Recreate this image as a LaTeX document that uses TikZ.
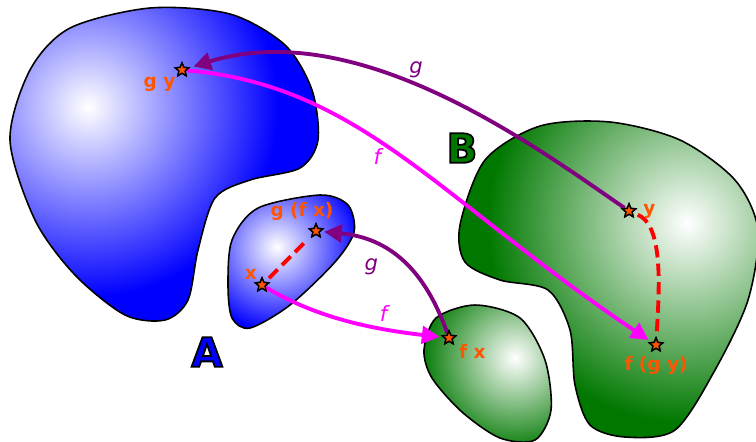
\documentclass[tikz,border=0pt]{standalone}
\usepackage{fontspec}
\setsansfont{DejaVu Sans}
\usetikzlibrary{arrows.meta,positioning,shapes.geometric}
\definecolor{ptcol}{RGB}{255,85,0}
\definecolor{gcol}{RGB}{128,0,128}
\definecolor{fcol}{RGB}{255,0,255}
\definecolor{setgreen}{RGB}{0,120,0}

\tikzset{
  pt/.style={star, star points=5, star point ratio=2.2, draw=black, line width=0.8pt,
    fill=ptcol, minimum size=8pt, inner sep=0pt},
  ptlbl/.style={text=ptcol, font=\sffamily\bfseries\fontsize{10.5}{12}\selectfont, inner sep=1pt},
  maplbl/.style={font=\sffamily\itshape\fontsize{12}{14}\selectfont, inner sep=1pt},
  map/.style={line width=2.2pt, -{Triangle[length=10pt,width=10pt]}, shorten >=2pt},
  eqpath/.style={red, line width=2.2pt, dash pattern=on 7pt off 3.5pt, shorten <=3pt, shorten >=3pt},
  blob/.style={draw=black, line width=0.9pt},
  setlbl/.style={font=\sffamily\bfseries\fontsize{23}{23}\selectfont}
}

\newcommand{\setblob}[5]{%
  \begin{scope}
    \clip plot[smooth cycle] coordinates {#5};
    \fill[#1] (0,0) rectangle (760,441);
    \shade[inner color=white, outer color=#1] (#2,#3) circle (#4);
  \end{scope}
  \draw[blob] plot[smooth cycle] coordinates {#5};}
\newcommand{\outlined}[2]{{\color{#1}\special{pdf:literal direct 0 0 0 RG 1 w 2 Tr}#2\special{pdf:literal direct 0 Tr}}}

\begin{document}
\begin{tikzpicture}[x=0.02cm, y=-0.02cm]
\useasboundingbox (0,0) rectangle (756,441);
\setblob{blue}{88}{107}{190}{(10,140) (30,70) (70,28) (150,8) (230,14) (285,45) (312,90) (318,140) (300,168) (250,180) (215,198) (198,250) (188,300) (165,320) (125,315) (75,275) (35,220)}
\setblob{blue}{277}{247}{85}{(228,285) (232,240) (258,208) (320,195) (348,205) (354,232) (335,262) (290,305) (250,328) (232,318)}
\setblob{setgreen}{515}{358}{95}{(424,350) (436,318) (475,305) (520,318) (545,360) (551,410) (535,440) (500,438) (462,412) (432,378)}
\setblob{setgreen}{687}{223}{200}{(460,225) (485,160) (540,126) (610,122) (680,140) (735,180) (758,230) (748,300) (715,370) (675,430) (625,437) (590,425) (575,385) (570,330) (548,290) (500,280) (465,262)}

\node[setlbl] (A) at (207,352) {\outlined{blue}{A}};
\node[setlbl] (B) at (462,148) {\outlined{setgreen}{B}};

\node[pt] (gy) at (182,70) {};
\node[pt] (gfx) at (316,231) {};
\node[pt] (x) at (262,285) {};
\node[pt] (fx) at (449,338) {};
\node[pt] (y) at (629,211) {};
\node[pt] (fgy) at (656,345) {};

\draw[eqpath] (x) -- (gfx);
\draw[eqpath] (y) .. controls (662,225) and (660,280) .. (fgy);

\draw[map, gcol] (y) .. controls (540,150) and (360,15) .. (gy) node[maplbl, pos=0.55, above=3pt] {g};
\draw[map, fcol] (gy) .. controls (360,85) and (440,200) .. (fgy) node[maplbl, pos=0.45, below, xshift=-4pt] {f};
\draw[map, fcol] (x) .. controls (320,320) and (380,330) .. (fx) node[maplbl, pos=0.68, above=2pt] {f};
\draw[map, gcol] (fx) .. controls (425,270) and (390,238) .. (gfx) node[maplbl, pos=0.6, below left=2pt and 4pt] {g};

\node[pt] at (gy) {};
\node[pt] at (gfx) {};
\node[pt] at (x) {};
\node[pt] at (fx) {};
\node[pt] at (y) {};
\node[pt] at (fgy) {};

\node[ptlbl, below left=0pt and 0pt of gy] (gylbl) {g y};
\node[ptlbl, above=0pt of gfx, xshift=-8pt] (gfxlbl) {g (f x)};
\node[ptlbl, above left=0pt and 0pt of x] (xlbl) {x};
\node[ptlbl, below right=0pt and 2pt of fx] (fxlbl) {f x};
\node[ptlbl, right=4pt of y] (ylbl) {y};
\node[ptlbl, below=3pt of fgy] (fgylbl) {f (g y)};
\end{tikzpicture}
\end{document}
